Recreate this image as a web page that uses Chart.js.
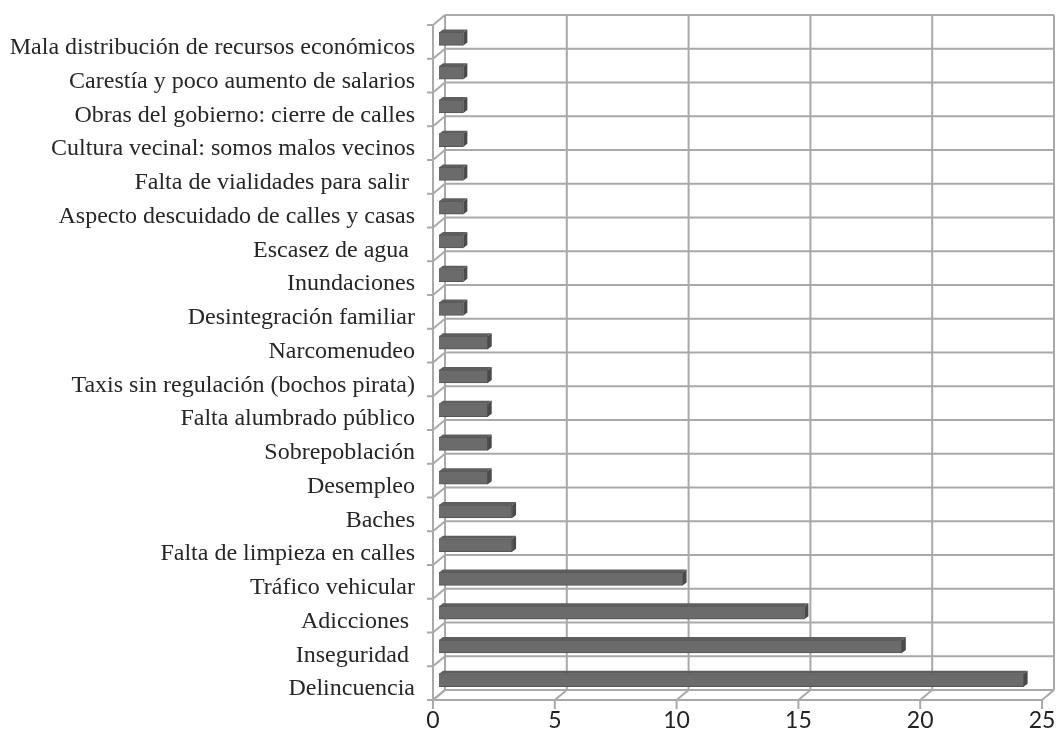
<!DOCTYPE html>
<html>
<head>
<meta charset="utf-8">
<script src="https://cdn.jsdelivr.net/npm/chart.js@4/dist/chart.umd.min.js"></script>
<style>
  html, body { margin: 0; padding: 0; background: #fff; }
  #caja { width: 1059px; height: 751px; }
</style>
</head>
<body>
<div id="caja"><canvas id="grafico"></canvas></div>
<script>
const categorias = [
  'Mala distribución de recursos económicos',
  'Carestía y poco aumento de salarios',
  'Obras del gobierno: cierre de calles',
  'Cultura vecinal: somos malos vecinos',
  'Falta de vialidades para salir ',
  'Aspecto descuidado de calles y casas',
  'Escasez de agua ',
  'Inundaciones',
  'Desintegración familiar',
  'Narcomenudeo',
  'Taxis sin regulación (bochos pirata)',
  'Falta alumbrado público',
  'Sobrepoblación',
  'Desempleo',
  'Baches',
  'Falta de limpieza en calles',
  'Tráfico vehicular',
  'Adicciones ',
  'Inseguridad ',
  'Delincuencia'
]
const valores = [1, 1, 1, 1, 1, 1, 1, 1, 1, 2, 2, 2, 2, 2, 3, 3, 10, 15, 19, 24]
const ticksX = [0, 5, 10, 15, 20, 25]

// media profundidad del "3D" (plano medio -> pared trasera)
const DX = 6
const DY = 5

const marco3d = {
  id: 'marco3d',
  beforeDatasetsDraw(chart) {
    const { ctx, chartArea: a, scales } = chart
    const x = scales.x
    const y = scales.y
    const h = y.getPixelForValue(1) - y.getPixelForValue(0)
    const linea = (x1, y1, x2, y2) => {
      ctx.beginPath(); ctx.moveTo(x1, y1); ctx.lineTo(x2, y2); ctx.stroke()
    }
    ctx.save()
    ctx.strokeStyle = '#a9a9a9'
    ctx.lineWidth = 2
    // pared del fondo y piso
    ticksX.forEach((v) => {
      const px = x.getPixelForValue(v)
      linea(px + DX, a.top - DY, px + DX, a.bottom - DY)
      linea(px - DX, a.bottom + DY, px + DX, a.bottom - DY)
      linea(px - DX, a.bottom + DY, px - DX, a.bottom + DY + 9)
    })
    for (let k = 0; k <= categorias.length; k++) {
      const py = y.getPixelForValue(0) - h / 2 + k * h
      linea(a.left + DX, py - DY, a.right + DX, py - DY)
      linea(a.left - DX, py + DY, a.left + DX, py - DY)
      linea(a.left - DX - 6, py + DY, a.left - DX, py + DY)
    }
    linea(a.left - DX, a.top + DY, a.left - DX, a.bottom + DY + 9)
    linea(a.left - DX, a.bottom + DY, a.right - DX, a.bottom + DY)
    ctx.restore()
    // las barras van un poco mas abajo, como en el original
    ctx.save()
    ctx.translate(0, 2)
  },
  afterDatasetsDraw(chart) {
    const { ctx } = chart
    chart.getDatasetMeta(0).data.forEach((barra) => {
      const p = barra.getProps(['x', 'y', 'base', 'height'], true)
      const t = p.y - p.height / 2
      const b = p.y + p.height / 2
      // cara superior
      ctx.fillStyle = '#5e5e5e'
      ctx.beginPath()
      ctx.moveTo(p.base, t); ctx.lineTo(p.x, t); ctx.lineTo(p.x + 4, t - 3); ctx.lineTo(p.base + 4, t - 3)
      ctx.closePath(); ctx.fill()
      // cara derecha
      ctx.fillStyle = '#4a4a4a'
      ctx.beginPath()
      ctx.moveTo(p.x, t); ctx.lineTo(p.x + 4, t - 3); ctx.lineTo(p.x + 4, b - 3); ctx.lineTo(p.x, b)
      ctx.closePath(); ctx.fill()
    })
    ctx.restore()
  }
}

new Chart(document.getElementById('grafico'), {
  type: 'bar',
  data: {
    labels: categorias,
    datasets: [
      {
        data: valores,
        backgroundColor: '#6b6b6b',
        borderColor: '#555555',
        borderWidth: 1,
        barThickness: 13,
      },
    ],
  },
  options: {
    indexAxis: 'y',
    responsive: true,
    maintainAspectRatio: false,
    animation: false,
    devicePixelRatio: 1,
    layout: {
      padding: { top: 20, right: 11, left: 0, bottom: 0 },
    },
    scales: {
      x: {
        min: 0,
        max: 25,
        border: { display: false },
        grid: { display: false, drawTicks: false },
        afterFit(s) {
          s.height = 56
          s.paddingLeft = 0
          s.paddingRight = 0
        },
        ticks: {
          stepSize: 5,
          padding: 12,
          labelOffset: -6,
          color: '#222',
          font: { family: 'Lato', size: 23 },
        },
      },
      y: {
        border: { display: false },
        grid: { display: false, drawTicks: false },
        afterFit(s) {
          s.width = 439
          s.paddingTop = 0
          s.paddingBottom = 0
        },
        ticks: {
          padding: 24,
          labelOffset: 11,
          autoSkip: false,
          color: '#262626',
          font: { family: 'Liberation Serif', size: 24 },
        },
      },
    },
    plugins: {
      legend: { display: false },
      tooltip: { enabled: false },
    },
  },
  plugins: [marco3d],
})
</script>
</body>
</html>
